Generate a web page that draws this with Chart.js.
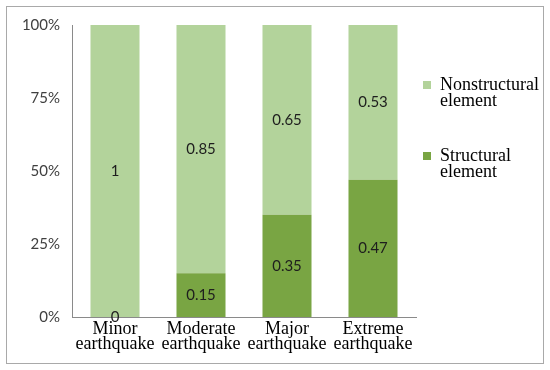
<!DOCTYPE html>
<html>
<head>
<meta charset="utf-8">
<script src="https://cdn.jsdelivr.net/npm/chart.js@4"></script>
<style>
  html, body { margin: 0; padding: 0; background: #fff; }
  #wrap { position: relative; width: 550px; height: 370px; }
</style>
</head>
<body>
<div id="wrap"><canvas id="shareChart" width="550" height="370"></canvas></div>
<script>
// === Data (shares of damage per earthquake level) ===
const categories = [
  ["Minor", "earthquake"],
  ["Moderate", "earthquake"],
  ["Major", "earthquake"],
  ["Extreme", "earthquake"],
];
const structuralValues = [0, 0.15, 0.35, 0.47];
const nonstructuralValues = [1, 0.85, 0.65, 0.53];
const yTicks = [0, 0.25, 0.5, 0.75, 1];

const SERIF = "'Liberation Serif', 'Times New Roman', serif";
Chart.defaults.font.family = SERIF;

// outer frame around the whole picture
const framePlugin = {
  id: "frame",
  beforeDraw(chart) {
    const ctx = chart.ctx;
    ctx.save();
    ctx.strokeStyle = "#a9a9a9";
    ctx.lineWidth = 1;
    ctx.strokeRect(6.5, 6.5, 537, 357);
    ctx.restore();
  },
};

// value labels in the middle of each segment
const valueLabels = {
  id: "valueLabels",
  afterDatasetsDraw(chart) {
    const ctx = chart.ctx;
    ctx.save();
    ctx.font = "normal 15px Lato";
    ctx.fillStyle = "#1e1e1e";
    ctx.textAlign = "center";
    ctx.textBaseline = "middle";
    chart.data.datasets.forEach((ds, i) => {
      chart.getDatasetMeta(i).data.forEach((bar, j) => {
        const p = bar.getCenterPoint();
        ctx.fillText(String(ds.data[j]), p.x, p.y);
      });
    });
    ctx.restore();
  },
};

new Chart(document.getElementById("shareChart"), {
  type: "bar",
  data: {
    labels: categories,
    datasets: [
      {
        label: ["Structural", "element", "", ""],
        data: structuralValues,
        backgroundColor: "#79a543",
      },
      {
        label: ["Nonstructural", "element", "", ""],
        data: nonstructuralValues,
        backgroundColor: "#b3d39b",
      },
    ],
  },
  options: {
    responsive: false,
    animation: false,
    devicePixelRatio: 1,
    layout: { padding: { left: 20, top: 25, right: 2, bottom: 0 } },
    datasets: { bar: { barPercentage: 0.57, categoryPercentage: 1 } },
    plugins: {
      tooltip: { enabled: false },
      legend: {
        position: "right",
        align: "start",
        reverse: true,
        title: {
          display: true,
          text: "",
          font: { family: SERIF, size: 10, lineHeight: "10px" },
          padding: { top: 0, bottom: 34 },
        },
        labels: {
          boxWidth: 8,
          boxHeight: 8,
          padding: 7,
          color: "#000",
          font: { family: SERIF, size: 18, lineHeight: "16px" },
        },
      },
    },
    scales: {
      x: {
        stacked: true,
        grid: { display: false, drawTicks: false },
        border: { display: true, color: "#8a8a8a" },
        ticks: {
          padding: 5,
          color: "#000",
          maxRotation: 0,
          autoSkip: false,
          font: { family: SERIF, size: 18, lineHeight: "15px" },
        },
        afterFit: (scale) => { scale.height = 53; },
      },
      y: {
        stacked: true,
        min: 0,
        max: 1,
        grid: { display: false, drawTicks: false },
        border: { display: true, color: "#8a8a8a" },
        afterBuildTicks: (scale) => {
          scale.ticks = yTicks.map((v) => ({ value: v }));
        },
        ticks: {
          padding: 12,
          color: "#404040",
          font: { family: "Lato", size: 15 },
          callback: (v) => Math.round(v * 100) + "%",
        },
        afterFit: (scale) => { scale.width = 52; },
      },
    },
  },
  plugins: [framePlugin, valueLabels],
});
</script>
</body>
</html>
